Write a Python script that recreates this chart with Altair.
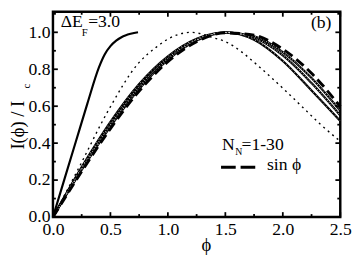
import altair as alt
import pandas as pd

# ---- data ----
phi = [0, 0.25, 0.5, 0.75, 1.0, 1.25, 1.5, 1.75, 2.0, 2.25, 2.5]
sin_vals = [0, 0.247, 0.479, 0.682, 0.841, 0.949, 0.997, 0.984, 0.909, 0.778, 0.598]
band_a = [0, 0.27, 0.515, 0.72, 0.87, 0.965, 1.0, 0.96, 0.845, 0.685, 0.52]
band_b = [0, 0.262, 0.50, 0.705, 0.86, 0.96, 0.999, 0.97, 0.875, 0.725, 0.55]
band_c = [0, 0.255, 0.49, 0.693, 0.85, 0.955, 0.998, 0.978, 0.893, 0.752, 0.575]

steep_phi = [0, 0.1, 0.2, 0.3, 0.4, 0.45, 0.5, 0.55, 0.6, 0.63, 0.74]
steep_I = [0, 0.205, 0.41, 0.615, 0.81, 0.88, 0.925, 0.955, 0.975, 0.983, 1.0]

dot_phi = [0, 0.22, 0.48, 0.74, 0.9, 1.02, 1.1, 1.2, 1.3, 1.4, 1.5, 1.65, 1.77, 1.9, 2.04, 2.18, 2.32, 2.5]
dot_I = [0, 0.26, 0.575, 0.83, 0.92, 0.97, 0.99, 1.0, 0.99, 0.97, 0.95, 0.89, 0.827, 0.755, 0.674, 0.59, 0.506, 0.41]

x_major = [0, 0.5, 1.0, 1.5, 2.0, 2.5]
x_minor = [0.25, 0.75, 1.25, 1.75, 2.25]
y_major = [0, 0.2, 0.4, 0.6, 0.8, 1.0]
y_minor = [0.1, 0.3, 0.5, 0.7, 0.9, 1.1]

W, H = 294, 210
YMAX = 1.111
XMAX = 2.5
FONT = "Times New Roman, Liberation Serif, serif"

xs = alt.Scale(domain=[0, XMAX], nice=False, zero=False)
ys = alt.Scale(domain=[0, YMAX], nice=False, zero=False)
xa = alt.Axis(values=x_major, format=".1f", tickSize=0, domain=False, grid=False,
              title=None, labelPadding=4, labelFlush=False,
              labelFont=FONT, labelFontSize=18, labelColor="black")
ya = alt.Axis(values=y_major, format=".1f", tickSize=0, domain=False, grid=False,
              title=None, labelPadding=3,
              labelFont=FONT, labelFontSize=18, labelColor="black")

def curve(px, py, **mk):
    df = pd.DataFrame({"phi": px, "I": py})
    return alt.Chart(df).mark_line(interpolate="monotone", **mk).encode(
        x=alt.X("phi:Q", scale=xs, axis=xa),
        y=alt.Y("I:Q", scale=ys, axis=ya),
    )

layers = []
# band of N_N curves
for vals in (band_a, band_b, band_c):
    layers.append(curve(phi, vals, color="black", strokeWidth=2.2))
layers.append(curve(phi, band_b, color="white", strokeWidth=0.9, strokeDash=[1, 2]))
layers.append(curve(phi, band_c, color="white", strokeWidth=0.9, strokeDash=[1, 2]))
layers.append(curve(phi, band_a, color="white", strokeWidth=0.7, strokeDash=[1, 3]))
# sin phi
layers.append(curve(phi, sin_vals, color="black", strokeWidth=3, strokeDash=[10, 5]))
# steep solid curve
layers.append(curve(steep_phi, steep_I, color="black", strokeWidth=2.2))
# dotted curve
layers.append(curve(dot_phi, dot_I, color="black", strokeWidth=1.4, strokeDash=[2, 4]))

# inward ticks
tx = 5 / W * XMAX
ty = 5 / H * YMAX
tx2 = 3 / W * XMAX
ty2 = 3 / H * YMAX

def xticks(vals, ln):
    df = pd.DataFrame({"v": vals})
    b = alt.Chart(df).mark_rule(color="black", strokeWidth=1.8)
    return [
        b.encode(x=alt.X("v:Q", scale=xs, axis=xa), y=alt.datum(0, scale=ys, axis=ya), y2=alt.datum(ln)),
        b.encode(x=alt.X("v:Q", scale=xs, axis=xa), y=alt.datum(YMAX, scale=ys, axis=ya), y2=alt.datum(YMAX - ln)),
    ]

def yticks(vals, ln):
    df = pd.DataFrame({"v": vals})
    b = alt.Chart(df).mark_rule(color="black", strokeWidth=1.8)
    return [
        b.encode(y=alt.Y("v:Q", scale=ys, axis=ya), x=alt.datum(0, scale=xs, axis=xa), x2=alt.datum(ln)),
        b.encode(y=alt.Y("v:Q", scale=ys, axis=ya), x=alt.datum(XMAX, scale=xs, axis=xa), x2=alt.datum(XMAX - ln)),
    ]

layers += xticks(x_major, ty) + xticks(x_minor, ty2) + yticks(y_major, tx) + yticks(y_minor, tx2)

one = pd.DataFrame({"a": [0]})

def txt(s, x, y, size=18, **kw):
    return alt.Chart(one).mark_text(text=s, font=FONT, fontSize=size, color="black",
                                    align=kw.pop("align", "left"),
                                    baseline=kw.pop("baseline", "alphabetic"), **kw).encode(
        x=alt.value(x), y=alt.value(y))

# annotations
layers += [
    txt("ΔE", 8, 16),
    txt("F", 29.5, 24.5, size=11),
    txt("=3.0", 36, 16),
    txt("(b)", 264, 17),
    txt("N", 173, 141),
    txt("N", 186.5, 147, size=10),
    txt("=1-30", 193, 141),
    txt("sin ϕ", 219, 162),
    txt("ϕ", 157, 239, size=19, align="center", baseline="middle"),
    txt("I(ϕ) / I", -36, 116, size=19, align="center", baseline="middle", angle=270),
    txt("c", -26, 76, size=11, align="center", baseline="middle", angle=270),
]
# legend dashed sample
layers.append(alt.Chart(one).mark_rule(color="black", strokeWidth=3, strokeDash=[15, 5]).encode(
    x=alt.value(172), x2=alt.value(208), y=alt.value(159)))

chart = alt.layer(*layers).properties(
    width=W, height=H,
    autosize=alt.AutoSizeParams(type="none"),
    padding={"left": 46, "top": 1, "right": 12, "bottom": 38},
).configure_view(stroke="black", strokeWidth=2.5)

chart.save("out.html", embed_options={"renderer": "svg", "actions": False})
